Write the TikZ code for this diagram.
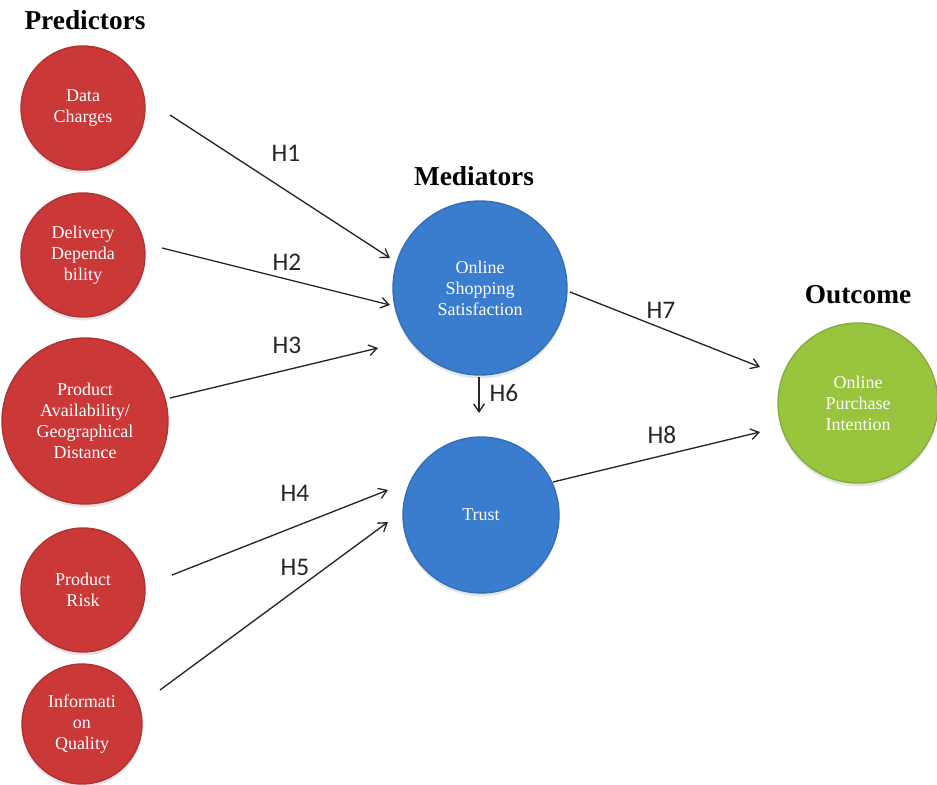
\documentclass[tikz,border=0pt]{standalone}
\usepackage{fontspec}
\setmainfont{Liberation Serif}
\newfontfamily\hypfont{Carlito}
\usetikzlibrary{arrows.meta,calc,shadows}

\definecolor{predred}{RGB}{202,56,56}
\definecolor{medblue}{RGB}{58,124,206}
\definecolor{outgreen}{RGB}{152,196,62}

\tikzset{
  construct/.style={circle, inner sep=0pt, align=center, text=white,
    font=\fontsize{13.5}{15.8}\selectfont, line width=1pt,
    drop shadow={opacity=0.2, shadow xshift=0pt, shadow yshift=-2.5pt}},
  predictor/.style={construct, fill=predred, draw=predred!88!black},
  mediator/.style={construct, fill=medblue, draw=medblue!88!black},
  outcome/.style={construct, fill=outgreen, draw=outgreen!88!black},
  heading/.style={font=\fontsize{20.5}{24}\selectfont\bfseries},
  hyp/.style={font=\hypfont\fontsize{19}{22}\selectfont, text=black!85},
  link/.style={line width=1pt, draw=black!85, -{Straight Barb[length=6pt,width=8pt]}}
}

\begin{document}
\begin{tikzpicture}[x=0.75pt,y=-0.75pt]
\fill[white] (0,0) rectangle (937,784);
\useasboundingbox (0,0) rectangle (937,784);

% group headings
\node[heading] (hpred) at (85,20) {Predictors};
\node[heading] (hmed)  at (474,176) {Mediators};
\node[heading] (hout)  at (858,295) {Outcome};

% predictors
\node[predictor, minimum size=93pt]    (dc) at (83,108) {Data\\Charges};
\node[predictor, minimum size=93pt]    (dd) at (83,255) {Delivery\\Dependa\\bility};
\node[predictor, minimum size=124.5pt] (pa) at (85,421) {Product\\Availability/\\Geographical\\Distance};
\node[predictor, minimum size=93pt]    (pr) at (83,590) {Product\\Risk};
\node[predictor, minimum size=90pt]    (iq) at (82,724) {Informati\\on\\Quality};

% mediators
\node[mediator, minimum size=130.5pt] (oss) at (480,288) {Online\\Shopping\\Satisfaction};
\node[mediator, minimum size=117pt]   (tr)  at (481,515) {Trust};

% outcome
\node[outcome, minimum size=120pt] (opi) at (858,403) {Online\\Purchase\\Intention};

% arrow end points, placed relative to the constructs they join
\coordinate (h1a) at ($(dc)+(87,7)$);    \coordinate (h1b) at ($(oss)+(-90,-30)$);
\coordinate (h2a) at ($(dd)+(79,-7)$);   \coordinate (h2b) at ($(oss)+(-90,17)$);
\coordinate (h3a) at ($(pa)+(85,-23)$);  \coordinate (h3b) at ($(oss)+(-102,60)$);
\coordinate (h4a) at ($(pr)+(89,-15)$);  \coordinate (h4b) at ($(tr)+(-93,-25)$);
\coordinate (h5a) at ($(iq)+(78,-34)$);  \coordinate (h5b) at ($(tr)+(-93,7)$);
\coordinate (h6a) at ($(oss)+(-1,89)$);  \coordinate (h6b) at ($(tr)+(-2,-102)$);
\coordinate (h7a) at ($(oss)+(90,4)$);   \coordinate (h7b) at ($(opi)+(-98,-36)$);
\coordinate (h8a) at ($(tr)+(72,-33)$);  \coordinate (h8b) at ($(opi)+(-98,29)$);

% hypothesised paths
\draw[link] (h1a) -- (h1b);
\draw[link] (h2a) -- (h2b);
\draw[link] (h3a) -- (h3b);
\draw[link] (h4a) -- (h4b);
\draw[link] (h5a) -- (h5b);
\draw[link] (h6a) -- (h6b);
\draw[link] (h7a) -- (h7b);
\draw[link] (h8a) -- (h8b);

% hypothesis labels
\node[hyp] (l1) at (286,153) {H1};
\node[hyp] (l2) at (287,262) {H2};
\node[hyp] (l3) at (287,345) {H3};
\node[hyp] (l4) at (295,493) {H4};
\node[hyp] (l5) at (295,567) {H5};
\node[hyp] (l6) at (504,393) {H6};
\node[hyp] (l7) at (661,310) {H7};
\node[hyp] (l8) at (662,435) {H8};
\end{tikzpicture}
\end{document}
